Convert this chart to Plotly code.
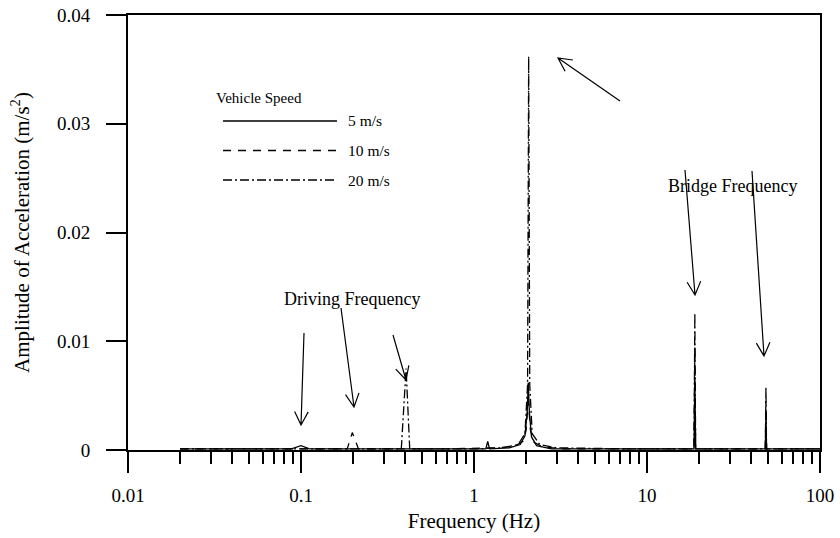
import math
import plotly.graph_objects as go

# ---- spectra (frequency in Hz, amplitude in m/s^2) ----
freq_5 = [0.02, 0.05, 0.08, 0.088, 0.1, 0.112, 0.13, 0.3, 0.7, 1.17, 1.2, 1.23,
          1.6, 1.85, 1.97, 2.03, 2.06, 2.09, 2.15, 2.3, 2.8, 6, 12, 18.7, 18.9,
          19.1, 30, 48.3, 48.7, 49.1, 70, 100]
amp_5 = [0.0001, 0.0001, 0.0001, 0.0001, 0.0004, 0.0001, 0.0001, 0.0001, 0.0001,
         0.0001, 0.0008, 0.0001, 0.0002, 0.0005, 0.0013, 0.0035, 0.0062, 0.0035,
         0.0012, 0.0004, 0.0001, 0.0001, 0.0001, 0.0001, 0.0065, 0.0001, 0.0001,
         0.0001, 0.0034, 0.0001, 0.0001, 0.0001]

freq_10 = [0.02, 0.06, 0.12, 0.185, 0.198, 0.215, 0.3, 0.7, 1.3, 1.7, 1.92, 2.0,
           2.06, 2.12, 2.22, 2.5, 3.2, 7, 14, 18.7, 18.9, 19.1, 30, 48.3, 48.7,
           49.1, 70, 100]
amp_10 = [0.0001, 0.0001, 0.0001, 0.0001, 0.0016, 0.0001, 0.0001, 0.0001,
          0.0002, 0.0003, 0.0008, 0.0018, 0.0045, 0.0018, 0.0007, 0.0003,
          0.0001, 0.0001, 0.0001, 0.0001, 0.0095, 0.0001, 0.0001, 0.0001,
          0.0045, 0.0001, 0.0001, 0.0001]

freq_20 = [0.02, 0.08, 0.2, 0.38, 0.405, 0.425, 0.6, 1.0, 1.45, 1.8, 1.97, 2.04,
           2.07, 2.1, 2.17, 2.4, 3.0, 8, 18.7, 18.9, 19.1, 30, 48.3, 48.7, 49.1,
           70, 100]
amp_20 = [0.0001, 0.0001, 0.0001, 0.0001, 0.0075, 0.0001, 0.0001, 0.0001,
          0.0002, 0.0005, 0.0015, 0.006, 0.0362, 0.006, 0.0015, 0.0005, 0.0002,
          0.0001, 0.0001, 0.0126, 0.0001, 0.0001, 0.0001, 0.0058, 0.0001,
          0.0001, 0.0001]

speed_labels = ["5 m/s", "10 m/s", "20 m/s"]
dash_styles = ["solid", "8px,7px", "9px,3px,2px,3px"]

x_tick_vals = [0.01, 0.1, 1, 10, 100]
x_tick_text = ["0.01", "0.1", "1", "10", "100"]
y_tick_vals = [0, 0.01, 0.02, 0.03, 0.04]
y_tick_text = ["0", "0.01", "0.02", "0.03", "0.04"]
x_minor_vals = [m * 10.0 ** d for d in range(-2, 2) for m in range(2, 10)]

FONT = "Liberation Serif"
W, H = 840, 538
L, R, T, B = 128, 20, 15, 88
PW, PH = W - L - R, H - T - B


def to_paper(px, py):
    """Pixel position in the figure -> paper coordinates."""
    return (px - L) / PW, (H - B - py) / PH


fig = go.Figure()
for f, a, name, dash in zip([freq_5, freq_10, freq_20], [amp_5, amp_10, amp_20],
                            speed_labels, dash_styles):
    fig.add_trace(go.Scatter(x=f, y=a, mode="lines", name=name,
                             line=dict(color="black", width=1.3, dash=dash),
                             showlegend=False))

shapes = []
annotations = []

# legend block
annotations.append(dict(text="Vehicle Speed", xref="paper", yref="paper",
                        x=to_paper(259, 98)[0], y=to_paper(259, 98)[1],
                        showarrow=False, xanchor="center", yanchor="middle",
                        font=dict(family=FONT, size=15, color="black")))
for i, (name, dash) in enumerate(zip(speed_labels, dash_styles)):
    yy = 121 + 29.5 * i
    x0, y0 = to_paper(223, yy)
    x1, _ = to_paper(337, yy)
    shapes.append(dict(type="line", xref="paper", yref="paper", x0=x0, x1=x1,
                       y0=y0, y1=y0, line=dict(color="black", width=1.3, dash=dash)))
    tx, _ = to_paper(346, yy)
    annotations.append(dict(text=name, xref="paper", yref="paper", x=tx, y=y0,
                            showarrow=False, xanchor="left", yanchor="middle",
                            font=dict(family=FONT, size=15.5, color="black")))

# labels
for txt, (px, py) in [("Bridge Frequency", (732, 186)), ("Driving Frequency", (352, 299))]:
    x, y = to_paper(px, py)
    annotations.append(dict(text=txt, xref="paper", yref="paper", x=x, y=y,
                            showarrow=False, xanchor="center", yanchor="middle",
                            font=dict(family=FONT, size=18, color="black")))

# arrows: (tail pixel, tip pixel)
arrows = [((620, 101), (558, 58)),
          ((685, 170), (695, 295)),
          ((752, 171), (764, 356)),
          ((304, 333), (301, 425)),
          ((341, 308), (354, 407)),
          ((393, 335), (406, 380))]
HEAD_LEN, HEAD_ANG = 15, math.radians(27)
for (tx, ty), (hx, hy) in arrows:
    ang = math.atan2(ty - hy, tx - hx)
    legs = [(hx + HEAD_LEN * math.cos(ang + s * HEAD_ANG),
             hy + HEAD_LEN * math.sin(ang + s * HEAD_ANG)) for s in (1, -1)]
    p = [to_paper(*q) for q in ((tx, ty), (hx, hy), legs[0], legs[1])]
    path = (f"M{p[0][0]},{p[0][1]} L{p[1][0]},{p[1][1]} "
            f"M{p[2][0]},{p[2][1]} L{p[1][0]},{p[1][1]} L{p[3][0]},{p[3][1]}")
    shapes.append(dict(type="path", xref="paper", yref="paper", path=path,
                       line=dict(color="black", width=1.2)))

axis_font = dict(family=FONT, size=19, color="black")
title_font = dict(family=FONT, size=21, color="black")

fig.update_layout(
    width=W, height=H,
    margin=dict(l=L, r=R, t=T, b=B, autoexpand=False),
    paper_bgcolor="white", plot_bgcolor="white",
    shapes=shapes, annotations=annotations,
    xaxis=dict(type="log", range=[-2, 2], tickvals=x_tick_vals, ticktext=x_tick_text,
               ticks="outside", ticklen=21, tickwidth=2, tickcolor="black",
               showline=True, linewidth=2, linecolor="black", mirror=True,
               showgrid=False, zeroline=False, tickfont=axis_font,
               ticklabelstandoff=6,
               minor=dict(ticks="outside", ticklen=12, tickwidth=2,
                          tickcolor="black", tickvals=x_minor_vals, showgrid=False),
               title=dict(text="Frequency (Hz)", font=title_font, standoff=9)),
    yaxis=dict(range=[0, 0.04], tickvals=y_tick_vals, ticktext=y_tick_text,
               ticks="outside", ticklen=20, tickwidth=2, tickcolor="black",
               showline=True, linewidth=2, linecolor="black", mirror=True,
               showgrid=False, zeroline=False, tickfont=axis_font,
               ticklabelstandoff=12,
               title=dict(text="Amplitude of Acceleration (m/s<sup>2</sup>)",
                          font=title_font, standoff=22)),
)

fig.write_html("out.html")
